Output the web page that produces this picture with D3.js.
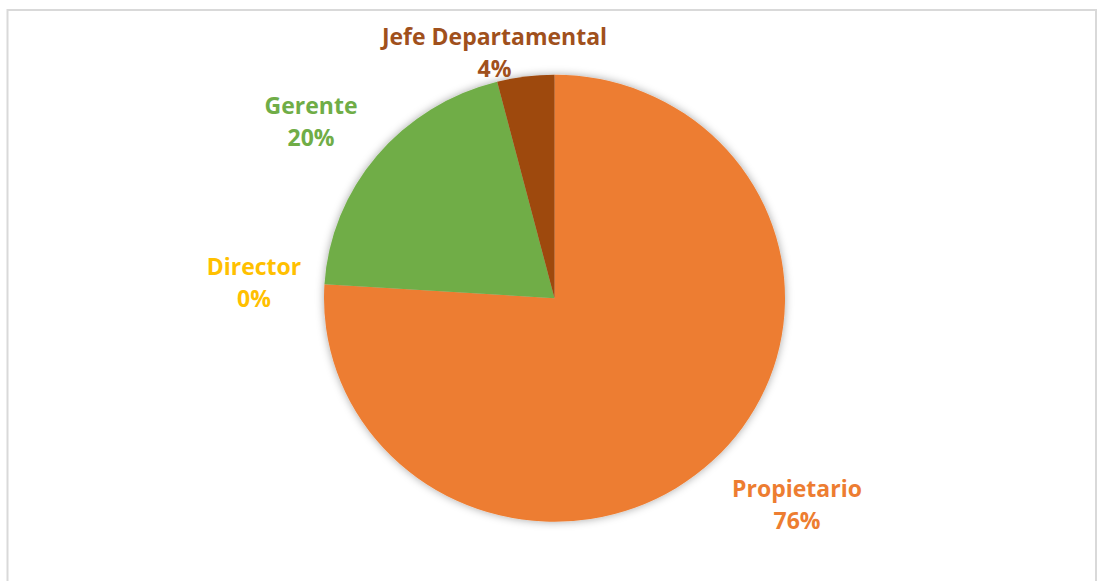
<!DOCTYPE html>
<html>
<head>
<meta charset="utf-8">
<script src="https://cdn.jsdelivr.net/npm/d3@7"></script>
<style>
  html, body { margin: 0; padding: 0; background: #ffffff; }
  svg { display: block; }
</style>
</head>
<body>
<div id="chart"></div>
<script>
// ---- data ----
const categories = ["Propietario", "Director", "Gerente", "Jefe Departamental"];
const values = [76, 0, 20, 4];
const percentLabels = ["76%", "0%", "20%", "4%"];

// ---- styles / layout ----
const colors = ["#ED7D31", "#FFC000", "#70AD47", "#9E480E"];
const labelColors = ["#ED7D31", "#FFC000", "#70AD47", "#A0501C"];
// label anchor offsets relative to pie centre (layout only)
const labelOffsets = [[242.5, 199], [-300.5, -23], [-243.5, -184], [-60, -253]];

const W = 1098, H = 581;
const cx = 554.5, cy = 298.2, ry = 223.5, sx = 230.5 / 223.5;

const svg = d3.select("#chart").append("svg").attr("width", W).attr("height", H);

const defs = svg.append("defs");
const f = defs.append("filter").attr("id", "shadow")
  .attr("x", "-20%").attr("y", "-20%").attr("width", "140%").attr("height", "140%");
f.append("feDropShadow").attr("dx", 0).attr("dy", 0).attr("stdDeviation", 4)
  .attr("flood-color", "#000").attr("flood-opacity", 0.35);

// chart border
svg.append("rect").attr("x", 7.5).attr("y", 10).attr("width", 1088.5).attr("height", 620)
  .attr("fill", "#fff").attr("stroke", "#d9d9d9").attr("stroke-width", 2);

const data = categories.map((c, i) => ({ cat: c, value: values[i], i }));
const pie = d3.pie().sort(null).value(d => d.value);
const arc = d3.arc().innerRadius(0).outerRadius(ry);

const g = svg.append("g")
  .attr("transform", `translate(${cx},${cy}) scale(${sx},1)`);

const arcs = pie(data);
g.append("g").attr("filter", "url(#shadow)")
  .selectAll("path").data(arcs.filter(d => d.data.value > 0)).join("path")
  .attr("d", arc)
  .attr("fill", d => colors[d.data.i]);

const lg = svg.append("g").attr("transform", `translate(${cx},${cy})`)
  .attr("font-family", "'Open Sans', 'DejaVu Sans', sans-serif")
  .attr("font-weight", "bold").attr("font-size", 23);

const lbl = lg.selectAll("text").data(arcs).join("text")
  .attr("text-anchor", "middle")
  .attr("fill", d => labelColors[d.data.i])
  .attr("transform", d => `translate(${labelOffsets[d.data.i][0]},${labelOffsets[d.data.i][1]})`);
lbl.append("tspan").attr("x", 0).attr("y", 0).text(d => d.data.cat);
lbl.append("tspan").attr("x", 0).attr("y", 32).text(d => percentLabels[d.data.i]);
</script>
</body>
</html>
